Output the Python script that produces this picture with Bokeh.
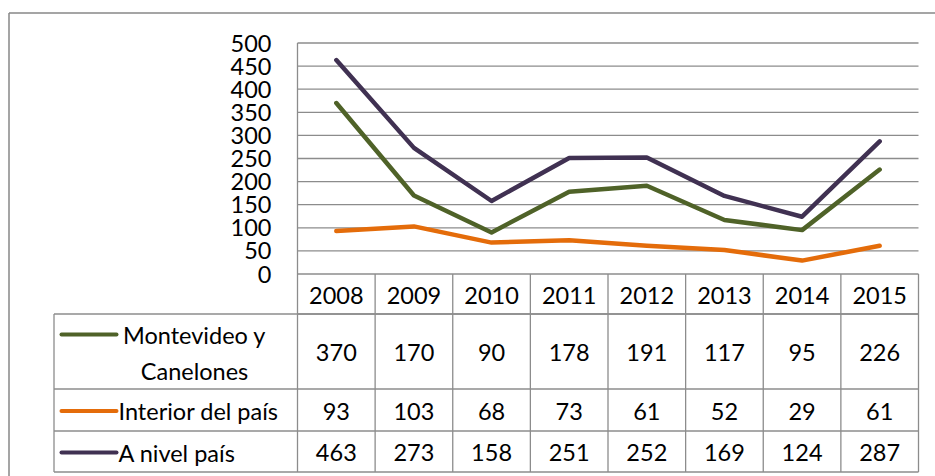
from bokeh.plotting import figure
from bokeh.models import Range1d
from bokeh.core.properties import value
from bokeh.embed import file_html
from bokeh.resources import INLINE

# ---------------- data ----------------
years = ["2008", "2009", "2010", "2011", "2012", "2013", "2014", "2015"]
montevideo = [370, 170, 90, 178, 191, 117, 95, 226]
interior = [93, 103, 68, 73, 61, 52, 29, 61]
nivel_pais = [463, 273, 158, 251, 252, 169, 124, 287]
series_labels = ["Montevideo y\nCanelones", "Interior del país", "A nivel país"]
y_ticks = [0, 50, 100, 150, 200, 250, 300, 350, 400, 450, 500]
y_tick_labels = ["0", "50", "100", "150", "200", "250", "300", "350", "400", "450", "500"]

series_values = [montevideo, interior, nivel_pais]
series_colors = ["#4F6228", "#E46C0A", "#403152"]

# ---------------- layout (page pixels) ----------------
W, H = 935, 476
OX, OY = 0, 0
PLOT_L, PLOT_R = 297, 918
Y0_PX, YTOP_PX = 273.5, 42.5
n = len(years)
cw = (PLOT_R - PLOT_L) / n
vmax = y_ticks[-1]
vscale = (Y0_PX - YTOP_PX) / vmax

x_start = (OX - PLOT_L) / cw - 0.5
x_end = (OX + W - PLOT_L) / cw - 0.5
y_start = (Y0_PX - (OY + H)) / vscale
y_end = (Y0_PX - OY) / vscale

p = figure(width=W, height=H, output_backend="svg", toolbar_location=None,
           x_range=Range1d(x_start, x_end), y_range=Range1d(y_start, y_end),
           min_border=0, outline_line_color=None, background_fill_color="white",
           border_fill_color="white")
p.extra_x_ranges = {"px": Range1d(OX, OX + W)}
p.extra_y_ranges = {"py": Range1d(OY + H, OY)}
p.axis.visible = False
p.grid.visible = False

FONT = value("Lato")
FS = value("23.5px")
GRID = "#8c8c8c"

# outer frame
p.segment(x0=[8.5, 8.5], y0=[12.5, 12.5], x1=[8.5, 935], y1=[476, 12.5],
          x_range_name="px", y_range_name="py", line_color="#878787", line_width=1.5)

# horizontal gridlines (value space)
xs_left = -0.5
xs_right = n - 0.5
p.segment(x0=[xs_left] * len(y_ticks), y0=y_ticks, x1=[xs_right] * len(y_ticks), y1=y_ticks,
          line_color=GRID, line_width=1.3)
# vertical axis line
p.segment(x0=[xs_left], y0=[0], x1=[xs_left], y1=[vmax], line_color=GRID, line_width=1.3)

# y tick labels
p.text(x=[271] * len(y_ticks), y=y_ticks, text=y_tick_labels, x_range_name="px",
       text_align="right", text_baseline="middle", text_font=FONT, text_font_size=FS,
       text_color="black")

# ---------------- table ----------------
HEADER_TOP, HEADER_BOT = Y0_PX, 313.5
row_bounds = [(313.5, 388.5), (388.5, 430.5), (430.5, 471.5)]
LEG_L = 53.5

# vertical lines between year columns
vx = [i - 0.5 for i in range(n + 1)]
p.segment(x0=vx, y0=[HEADER_TOP] * len(vx), x1=vx, y1=[row_bounds[-1][1]] * len(vx),
          y_range_name="py", line_color=GRID, line_width=1.3)
# header bottom line
p.segment(x0=[xs_left], y0=[HEADER_BOT], x1=[xs_right], y1=[HEADER_BOT],
          y_range_name="py", line_color=GRID, line_width=1.3)
# legend column lines (px space)
hy = [HEADER_BOT] + [b for _, b in row_bounds]
p.segment(x0=[LEG_L] * len(hy), y0=hy, x1=[PLOT_R] * len(hy), y1=hy,
          x_range_name="px", y_range_name="py", line_color=GRID, line_width=1.3)
p.segment(x0=[LEG_L], y0=[HEADER_BOT], x1=[LEG_L], y1=[row_bounds[-1][1]],
          x_range_name="px", y_range_name="py", line_color=GRID, line_width=1.3)

# header years
p.text(x=list(range(n)), y=[295] * n, text=years, y_range_name="py",
       text_align="center", text_baseline="middle", text_font=FONT, text_font_size=FS,
       text_color="black")

# rows: values, legend key and label
for (top, bot), vals, col, lab in zip(row_bounds, series_values, series_colors, series_labels):
    cy = (top + bot) / 2
    p.text(x=list(range(n)), y=[cy + 1] * n, text=[str(v) for v in vals], y_range_name="py",
           text_align="center", text_baseline="middle", text_font=FONT, text_font_size=FS,
           text_color="black")
    lines = lab.split("\n")
    k = len(lines)
    ys = [cy + 1 + (j - (k - 1) / 2) * 36 for j in range(k)]
    p.segment(x0=[61], y0=[ys[0]], x1=[116], y1=[ys[0]], x_range_name="px", y_range_name="py",
              line_color=col, line_width=4, line_cap="round")
    if k == 1:
        p.text(x=[118], y=ys, text=lines, x_range_name="px", y_range_name="py",
               text_align="left", text_baseline="middle", text_font=FONT, text_font_size=FS,
               text_color="black")
    else:
        p.text(x=[194] * k, y=ys, text=lines, x_range_name="px", y_range_name="py",
               text_align="center", text_baseline="middle", text_font=FONT, text_font_size=FS,
               text_color="black")

# ---------------- series lines ----------------
for vals, col in zip(series_values, series_colors):
    p.line(x=list(range(n)), y=vals, line_color=col, line_width=4.5,
           line_join="round", line_cap="round")

open("out.html", "w").write(file_html(p, INLINE))
